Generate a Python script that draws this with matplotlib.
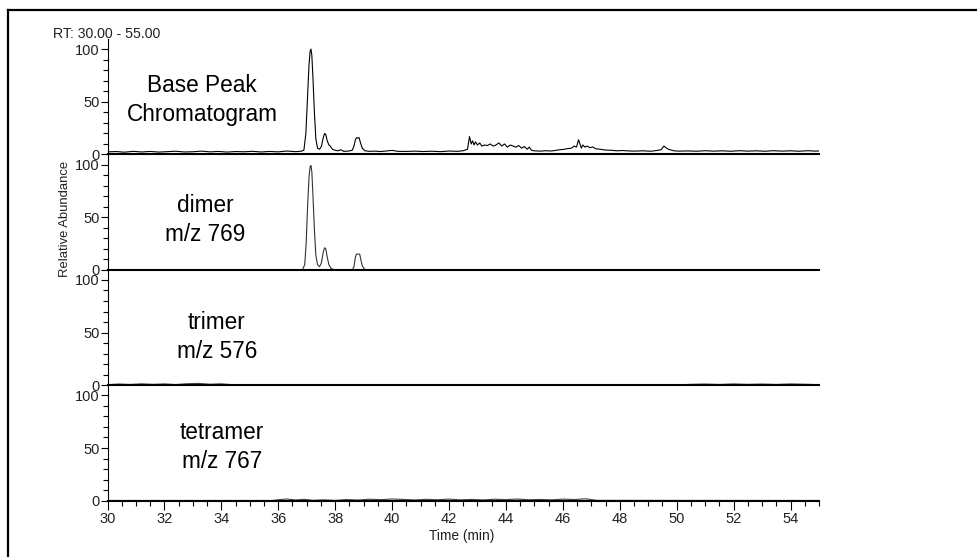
import matplotlib
matplotlib.use("Agg")
import matplotlib.pyplot as plt
from matplotlib.lines import Line2D
from matplotlib.ticker import MultipleLocator

plt.rcParams['font.family'] = ['Liberation Sans', 'DejaVu Sans']

# ---- chromatogram traces (time in min, relative abundance in %) ----
bpc_time = [30.0, 30.3, 30.6, 30.9, 31.2, 31.5, 31.8, 32.1, 32.4, 32.7, 33.0, 33.3, 33.6,
            33.9, 34.2, 34.5, 34.8, 35.1, 35.4, 35.7, 36.0, 36.3, 36.6, 36.8, 36.9, 36.97,
            37.03, 37.08, 37.12, 37.15, 37.18, 37.22, 37.27, 37.32, 37.38, 37.45, 37.52,
            37.58, 37.63, 37.67, 37.72, 37.78, 37.83, 37.9, 38.0, 38.1, 38.2, 38.3, 38.45,
            38.6, 38.66, 38.71, 38.75, 38.8, 38.84, 38.88, 38.95, 39.05, 39.2, 39.4, 39.6,
            39.8, 40.0, 40.2, 40.5, 40.8, 41.1, 41.4, 41.7, 42.0, 42.3, 42.5, 42.65, 42.72,
            42.78, 42.83, 42.88, 42.93, 43.0, 43.08, 43.15, 43.25, 43.35, 43.45, 43.55,
            43.65, 43.75, 43.85, 43.95, 44.05, 44.15, 44.25, 44.35, 44.45, 44.55, 44.65,
            44.75, 44.82, 44.9, 45.0, 45.2, 45.4, 45.6, 45.8, 46.0, 46.15, 46.3, 46.4,
            46.48, 46.55, 46.6, 46.65, 46.7, 46.78, 46.85, 46.95, 47.05, 47.15, 47.3, 47.5,
            47.7, 47.9, 48.1, 48.3, 48.5, 48.8, 49.1, 49.3, 49.45, 49.55, 49.62, 49.7, 49.8,
            49.9, 50.1, 50.4, 50.7, 51.0, 51.3, 51.6, 51.9, 52.2, 52.5, 52.8, 53.1, 53.4,
            53.7, 54.0, 54.3, 54.6, 54.9, 55.0]
bpc_abund = [2.5, 2.8, 2.2, 3.0, 2.4, 2.9, 2.3, 2.7, 3.1, 2.4, 2.6, 3.2, 2.5,
             2.9, 2.3, 2.8, 2.6, 3.0, 2.4, 2.9, 2.5, 3.3, 2.7, 3.1, 4.0, 20,
             55, 85, 98, 100, 94, 72, 40, 15, 6, 5, 8,
             16, 20, 19, 13, 9, 8, 5, 4, 3.5, 4.5, 3, 3.2,
             4, 8, 14, 16, 15.5, 16, 12, 6, 3.5, 3, 3.2, 2.8,
             3.4, 3.9, 3, 2.9, 3.2, 2.8, 3.1, 2.7, 3.3, 3.0, 3.6, 5, 17,
             10, 13, 9, 12, 9, 11, 8, 9, 8.5, 10, 8,
             9, 11, 8, 10, 7, 9, 8, 7, 8.5, 6, 7.5,
             5, 7, 4, 3.5, 3.2, 3.6, 3.3, 4.2, 4.8, 5.5, 6, 8,
             7, 14, 10, 6, 9, 7, 8, 6.5, 7.2, 5.5, 5, 4.2,
             4, 3.5, 3.8, 3.4, 3.2, 3.5, 3.1, 3.8, 4.5, 8, 6.5, 5, 4.2,
             3.5, 3.2, 3.4, 3.1, 3.6, 3.2, 3.5, 3.1, 3.6, 3.2, 3.5, 3.1, 3.6,
             3.2, 3.5, 3.1, 3.6, 3.2, 3.4]

dimer_time = [30.0, 36.85, 36.93, 36.98, 37.03, 37.08, 37.12, 37.15, 37.18, 37.22, 37.27,
              37.32, 37.38, 37.45, 37.52, 37.58, 37.63, 37.67, 37.72, 37.78, 37.85, 37.95,
              38.1, 38.6, 38.66, 38.71, 38.75, 38.8, 38.86, 38.9, 38.95, 39.02, 39.1, 55.0]
dimer_abund = [0, 0, 5, 25, 60, 88, 98, 99, 93, 70, 38,
               14, 5, 3, 7, 17, 21, 20, 12, 5, 1.5, 0.3,
               0, 0, 3, 12, 15, 15, 15, 10, 4, 1, 0, 0]

trimer_time = [30.0, 30.4, 30.8, 31.2, 31.6, 32.0, 32.4, 32.8, 33.2, 33.6, 34.0, 34.4,
               34.8, 36.0, 38.0, 40.0, 42.0, 44.0, 46.0, 48.0, 50.0, 50.5, 51.0, 51.5,
               52.0, 52.5, 53.0, 53.5, 54.0, 54.5, 55.0]
trimer_abund = [0.6, 1.2, 0.8, 1.4, 0.9, 1.3, 0.7, 1.5, 1.8, 1.0, 1.4, 0.5,
                0.3, 0.3, 0.3, 0.4, 0.3, 0.4, 0.3, 0.4, 0.4, 0.9, 1.2, 0.8,
                1.3, 0.9, 1.2, 0.8, 1.3, 1.0, 0.6]

tetramer_time = [30.0, 35.8, 36.0, 36.3, 36.6, 36.9, 37.2, 37.6, 38.0, 38.4, 38.8, 39.2,
                 39.6, 40.0, 40.4, 40.8, 41.2, 41.6, 42.0, 42.4, 42.8, 43.2, 43.6, 44.0,
                 44.4, 44.8, 45.2, 45.6, 46.0, 46.4, 46.8, 47.2, 55.0]
tetramer_abund = [0.2, 0.2, 0.9, 1.6, 0.7, 1.3, 0.4, 0.8, 0.3, 1.1, 0.6, 1.4,
                  1.0, 1.6, 1.2, 0.7, 1.3, 0.9, 1.5, 0.8, 1.2, 0.7, 1.4, 1.0,
                  1.6, 0.9, 1.2, 0.8, 1.5, 1.1, 1.8, 0.3, 0.2]

panel_labels = ["Base Peak\nChromatogram", "dimer\nm/z 769", "trimer\nm/z 576",
                "tetramer\nm/z 767"]
traces = [(bpc_time, bpc_abund, 'black'),
          (dimer_time, dimer_abund, '#333333'),
          (trimer_time, trimer_abund, '#444444'),
          (tetramer_time, tetramer_abund, '#444444')]
label_pos = [(202, 100), (205, 220), (217, 337), (222, 447)]  # pixel centres

W, H = 977, 557
fig = plt.figure(figsize=(W / 100, H / 100), dpi=100)
fig.patch.set_facecolor('white')

left_px, right_px = 107.5, 819.0
panel_h_px = 115.4
bottom0_px = 500.7  # baseline of lowest panel

tick_fs = 10.5
for i, (t, a, col) in enumerate(traces):
    base_px = bottom0_px - (3 - i) * panel_h_px
    ax = fig.add_axes([left_px / W, 1 - base_px / H,
                       (right_px - left_px) / W, panel_h_px / H])
    ax.set_facecolor('none')
    ax.plot(t, a, color=col, lw=0.8)
    ax.set_xlim(30, 55)
    ax.set_ylim(0, 109.5)
    for s in ('top', 'right'):
        ax.spines[s].set_visible(False)
    ax.spines['bottom'].set_linewidth(1.5)
    ax.spines['left'].set_linewidth(0.8)
    ax.yaxis.set_major_locator(MultipleLocator(50))
    ax.yaxis.set_minor_locator(MultipleLocator(10))
    ax.tick_params(axis='y', which='major', length=5, width=0.8, pad=0.5,
                   labelsize=tick_fs, labelcolor='#222222')
    ax.tick_params(axis='y', which='minor', length=3.5, width=0.8)
    if i < 3:
        ax.tick_params(axis='x', which='both', bottom=False, labelbottom=False)
    else:
        ax.xaxis.set_major_locator(MultipleLocator(2))
        ax.xaxis.set_minor_locator(MultipleLocator(0.5))
        ax.tick_params(axis='x', which='major', length=6.5, width=0.8, pad=1.5,
                       labelsize=tick_fs, labelcolor='#222222')
        ax.tick_params(axis='x', which='minor', length=3.6, width=0.8)
    lx, ly = label_pos[i]
    fig.text(lx / W, 1 - ly / H, panel_labels[i], ha='center', va='center',
             fontsize=16.3, linespacing=1.3, color='black')

fig.text(53 / W, 1 - 34 / H, "RT: 30.00 - 55.00", ha='left', va='center',
         fontsize=10.2, color='#222222')
fig.text(65 / W, 1 - 219 / H, "Relative Abundance", ha='center', va='center',
         rotation=90, fontsize=9.4, color='#222222')
fig.text(462 / W, 1 - 536 / H, "Time (min)", ha='center', va='center',
         fontsize=9.9, color='#222222')

# outer frame (left and top edges)
fig.add_artist(Line2D([7.5 / W, 7.5 / W], [0, 1 - 9.5 / H], transform=fig.transFigure,
                      color='black', lw=1.6))
fig.add_artist(Line2D([7.5 / W, 1], [1 - 9.5 / H, 1 - 9.5 / H], transform=fig.transFigure,
                      color='black', lw=1.6))

fig.savefig('out.png', dpi=100)
